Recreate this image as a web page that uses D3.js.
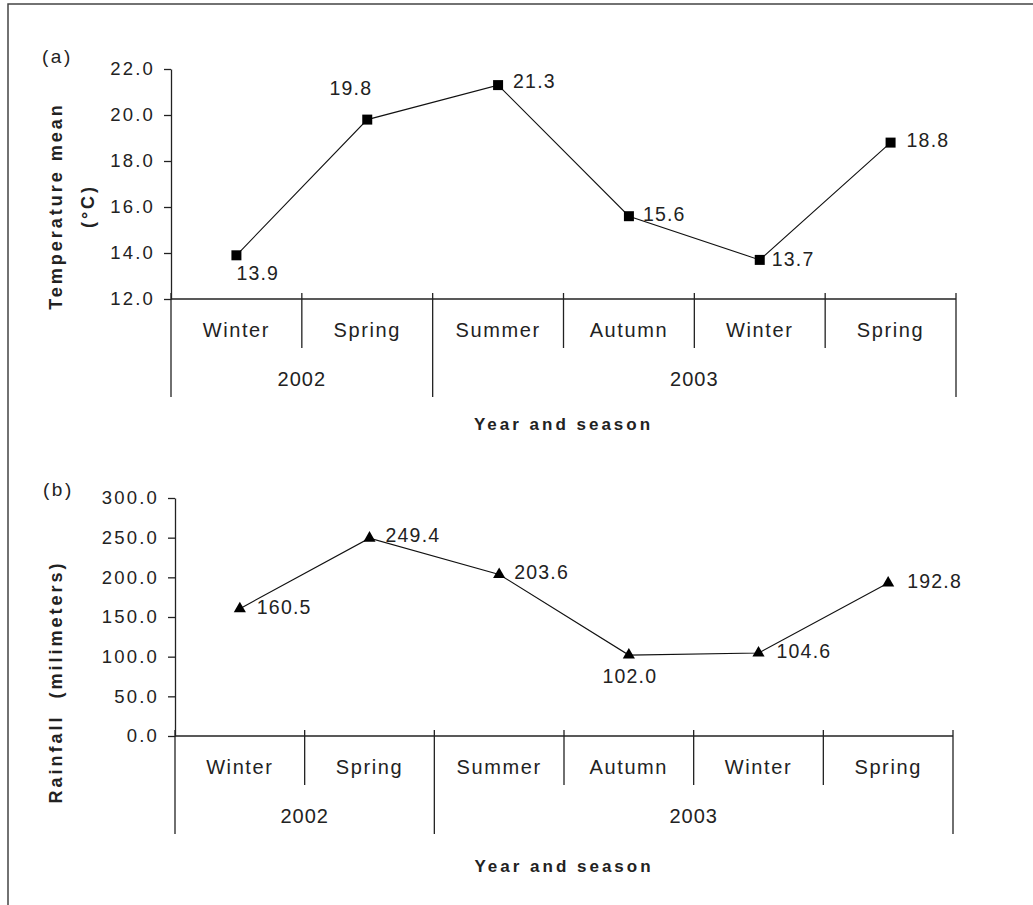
<!DOCTYPE html>
<html>
<head>
<meta charset="utf-8">
<script src="https://cdn.jsdelivr.net/npm/d3@7"></script>
<style>
  body { margin: 0; background: #fff; }
  svg { display: block; font-family: "Liberation Sans", Arial, sans-serif; }
  text { fill: #222; }
</style>
</head>
<body>
<svg id="chart" width="1033" height="905"></svg>
<script>
// categories
const seasons = ["Winter", "Spring", "Summer", "Autumn", "Winter", "Spring"];
const yearLabels = ["2002", "2003"];
const yearSpans = [2, 4]; // number of seasons under each year

// series
const tempValues = [13.9, 19.8, 21.3, 15.6, 13.7, 18.8];
const rainValues = [160.5, 249.4, 203.6, 102.0, 104.6, 192.8];

// tick labels
const tempTicks = [12, 14, 16, 18, 20, 22];
const rainTicks = [0, 50, 100, 150, 200, 250, 300];

// where each value label sits relative to its marker [dx, dy, anchor]
const tempLabelPos = [[0, 25, "start"], [5, -25, "end"], [15, 3, "start"], [14, 5, "start"], [12, 6, "start"], [16, 4, "start"]];
const rainLabelPos = [[17, 5, "start"], [16, 4, "start"], [15, 5, "start"], [1, 28, "middle"], [18, 5, "start"], [19, 5, "start"]];

const svg = d3.select("#chart");

// outer frame (only left and top edges visible)
svg.append("path")
    .attr("d", "M8,905V4H1033")
    .attr("fill", "none")
    .attr("stroke", "#444")
    .attr("stroke-width", 1.5);

function drawPanel(p) {
    const g = svg.append("g");

    const x = d3.scaleBand()
        .domain(d3.range(seasons.length))
        .range([p.x0, p.x1])
        .padding(0);

    const y = d3.scaleLinear()
        .domain([p.ticks[0], p.ticks[p.ticks.length - 1]])
        .range([p.yBottom, p.yTop]);

    // y axis
    const yAxis = d3.axisLeft(y)
        .tickValues(p.ticks)
        .tickFormat(d3.format(".1f"))
        .tickSize(7)
        .tickSizeOuter(0)
        .tickPadding(11);

    const ya = g.append("g")
        .attr("transform", `translate(${p.x0},0)`)
        .call(yAxis);
    ya.select(".domain").attr("stroke", "#222").attr("stroke-width", 1.3);
    ya.selectAll(".tick line").attr("stroke", "#222").attr("stroke-width", 1.3);
    ya.selectAll(".tick text")
        .attr("fill", "#222")
        .style("font-size", "18.5px")
        .style("letter-spacing", "2.2px")
        .attr("dx", "2px")
        .attr("font-family", null);

    // x axis baseline
    g.append("line")
        .attr("x1", p.x0).attr("x2", p.x1)
        .attr("y1", p.yBottom).attr("y2", p.yBottom)
        .attr("stroke", "#222").attr("stroke-width", 1.3);

    // season separators
    const yearBounds = [0];
    yearSpans.forEach(s => yearBounds.push(yearBounds[yearBounds.length - 1] + s));
    const edges = d3.range(seasons.length + 1);
    g.selectAll(".sep")
        .data(edges)
        .join("line")
        .attr("x1", i => i < seasons.length ? x(i) : p.x1)
        .attr("x2", i => i < seasons.length ? x(i) : p.x1)
        .attr("y1", p.yBottom - 6)
        .attr("y2", i => p.yBottom + (yearBounds.includes(i) ? 98 : 49))
        .attr("stroke", "#222").attr("stroke-width", 1.3);

    // season labels
    g.selectAll(".season")
        .data(seasons)
        .join("text")
        .attr("x", (d, i) => x(i) + x.bandwidth() / 2)
        .attr("y", p.yBottom + 38)
        .attr("text-anchor", "middle")
        .style("font-size", "20px")
        .style("letter-spacing", "1.6px")
        .text(d => d);

    // year labels
    g.selectAll(".year")
        .data(yearLabels)
        .join("text")
        .attr("x", (d, i) => {
            const a = x(yearBounds[i]);
            const b = yearBounds[i + 1] < seasons.length ? x(yearBounds[i + 1]) : p.x1;
            return (a + b) / 2;
        })
        .attr("y", p.yBottom + 87)
        .attr("text-anchor", "middle")
        .style("font-size", "20px")
        .style("letter-spacing", "1px")
        .text(d => d);

    // x title
    g.append("text")
        .attr("x", (p.x0 + p.x1) / 2)
        .attr("y", p.yBottom + p.titleDy)
        .attr("text-anchor", "middle")
        .style("font-size", "17px")
        .style("font-weight", "bold")
        .style("letter-spacing", "3px")
        .text("Year and season");

    // y title
    p.yTitle.forEach((t, i) => {
        g.append("text")
            .attr("transform", `translate(${p.yTitleX[i]},${p.yTitleY}) rotate(-90)`)
            .attr("text-anchor", "middle")
            .style("font-size", "18px")
            .style("font-weight", "bold")
            .style("letter-spacing", "3px")
            .style("white-space", "pre")
            .text(t);
    });

    // panel letter
    g.append("text")
        .attr("x", p.letterX).attr("y", p.letterY)
        .style("font-size", "19px")
        .style("letter-spacing", "2.5px")
        .text(p.letter);

    // line
    const line = d3.line()
        .x((d, i) => x(i) + x.bandwidth() / 2)
        .y(d => y(d));

    g.append("path")
        .datum(p.values)
        .attr("fill", "none")
        .attr("stroke", "#111")
        .attr("stroke-width", 1.1)
        .attr("d", line);

    // markers
    g.selectAll(".mark")
        .data(p.values)
        .join("path")
        .attr("transform", (d, i) => `translate(${x(i) + x.bandwidth() / 2},${y(d)})`)
        .attr("d", d3.symbol(p.symbol, p.symbolSize))
        .attr("fill", "#000");

    // value labels
    g.selectAll(".val")
        .data(p.values)
        .join("text")
        .attr("x", (d, i) => x(i) + x.bandwidth() / 2 + p.labelPos[i][0])
        .attr("y", (d, i) => y(d) + p.labelPos[i][1])
        .attr("text-anchor", (d, i) => p.labelPos[i][2])
        .style("font-size", "19.5px")
        .style("letter-spacing", "1.2px")
        .text(d => d3.format(".1f")(d));
}

drawPanel({
    x0: 171, x1: 956, yTop: 69, yBottom: 299,
    ticks: tempTicks, values: tempValues, labelPos: tempLabelPos,
    symbol: d3.symbolSquare, symbolSize: 100,
    yTitle: ["Temperature mean", "(°C)"], yTitleX: [62, 94], yTitleY: 206,
    letter: "(a)", letterX: 42, letterY: 63, titleDy: 131
});

drawPanel({
    x0: 175, x1: 953, yTop: 498, yBottom: 736,
    ticks: rainTicks, values: rainValues, labelPos: rainLabelPos,
    symbol: d3.symbolTriangle, symbolSize: 64,
    yTitle: ["Rainfall  (milimeters)"], yTitleX: [62], yTitleY: 682,
    letter: "(b)", letterX: 43, letterY: 496, titleDy: 136
});
</script>
</body>
</html>
